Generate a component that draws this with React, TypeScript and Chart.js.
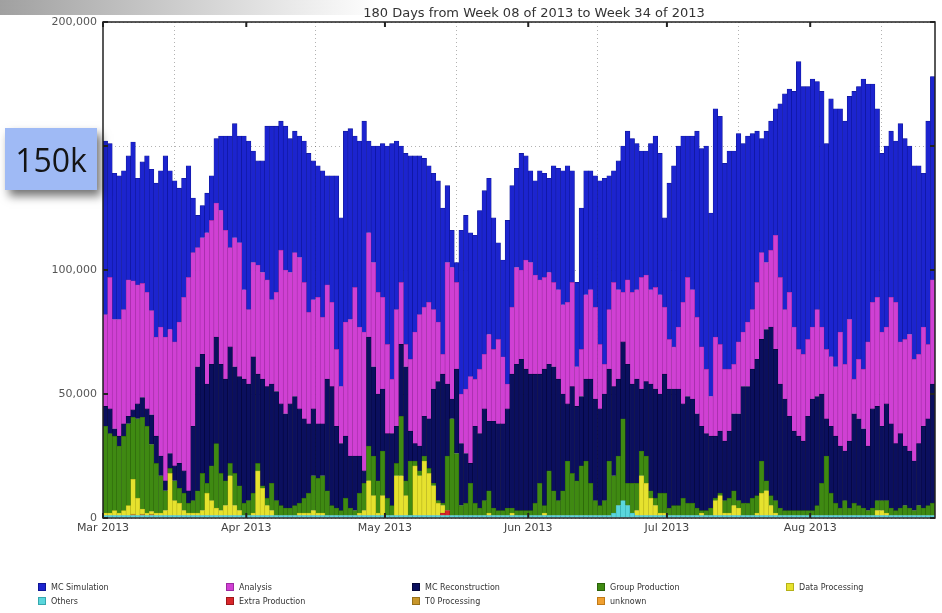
import React, { useEffect, useRef } from "react";
import { Chart, registerables } from "chart.js";

Chart.register(...registerables);

const TITLE = "180 Days from Week 08 of 2013 to Week 34 of 2013";
const MONTH_TICK_POSITIONS = [-0.5, 30.5, 60.5, 91.5, 121.5, 152.5];
const MONTH_TICK_LABELS = ["Mar 2013", "Apr 2013", "May 2013", "Jun 2013", "Jul 2013", "Aug 2013"];
const Y_TICKS = [0, 50000, 100000, 150000, 200000];
const UNIT = 1000; // series values below are in thousands of jobs per day (1 Mar – 27 Aug 2013)

const mcSimulation = [
  70, 54, 59, 58, 56, 50, 56, 43, 49, 55,
  57, 62, 63, 73, 64, 65, 54, 48, 45, 22,
  13, 13, 16, 18, 26, 30, 38, 45, 46, 43,
  62, 68, 45, 42, 45, 62, 70, 67, 52, 58,
  54, 49, 49, 57, 64, 56, 53, 59, 44, 51,
  70, 68, 77, 77, 61, 75, 85, 37, 47, 59,
  62, 80, 95, 68, 55, 77, 82, 71, 64, 60,
  55, 55, 57, 59, 31, 15, 8, 66, 70, 58,
  58, 64, 66, 63, 53, 39, 39, 66, 49, 40,
  47, 42, 37, 38, 44, 42, 38, 47, 49, 54,
  55, 45, 34, 57, 50, 48, 53, 66, 75, 54,
  45, 52, 59, 60, 62, 59, 51, 50, 59, 61,
  57, 36, 63, 73, 73, 67, 57, 62, 75, 80,
  90, 74, 92, 92, 83, 88, 86, 84, 76, 75,
  71, 61, 46, 53, 52, 51, 70, 87, 82, 95,
  116, 108, 102, 100, 92, 95, 83, 104, 104, 90,
  98, 90, 116, 110, 117, 104, 88, 76, 72, 73,
  67, 65, 88, 81, 76, 78, 76, 62, 90, 82,
];

const analysis = [
  37, 53, 44, 47, 46, 55, 52, 48, 46, 47,
  42, 40, 52, 58, 50, 50, 57, 70, 86, 70,
  48, 47, 61, 58, 54, 62, 60, 40, 52, 54,
  36, 30, 38, 44, 43, 43, 34, 40, 62, 58,
  53, 58, 61, 55, 45, 44, 51, 43, 38, 34,
  31, 23, 46, 55, 68, 52, 56, 42, 42, 41,
  37, 36, 22, 47, 25, 9, 29, 45, 53, 44,
  47, 32, 24, 8, 49, 53, 35, 20, 26, 35,
  19, 26, 22, 35, 29, 34, 27, 10, 27, 39,
  36, 44, 45, 40, 38, 37, 37, 34, 36, 36,
  41, 42, 16, 19, 34, 36, 37, 26, 12, 24,
  42, 36, 20, 34, 37, 36, 45, 43, 38, 41,
  40, 27, 20, 17, 25, 41, 48, 44, 39, 32,
  26, 16, 40, 35, 29, 25, 20, 29, 22, 26,
  24, 31, 35, 27, 31, 46, 43, 36, 50, 42,
  35, 35, 31, 29, 35, 27, 28, 28, 28, 46,
  35, 49, 14, 24, 24, 42, 43, 44, 38, 31,
  51, 57, 37, 43, 47, 41, 36, 40, 30, 42,
];

const mcReconstruction = [
  8, 10, 3, 4, 5, 3, 3, 6, 8, 7,
  12, 11, 8, 4, 6, 6, 10, 9, 5, 30,
  50, 48, 40, 41, 43, 44, 41, 47, 43, 44,
  50, 47, 55, 36, 43, 45, 40, 44, 41, 38,
  42, 44, 38, 32, 28, 27, 22, 21, 45, 48,
  33, 27, 25, 21, 22, 15, 5, 44, 36, 35,
  25, 26, 29, 15, 29, 46, 12, 7, 10, 16,
  20, 38, 48, 52, 29, 8, 34, 25, 20, 8,
  31, 30, 37, 28, 35, 35, 35, 40, 54, 59,
  61, 57, 55, 52, 44, 55, 43, 50, 49, 39,
  23, 35, 30, 28, 33, 42, 41, 39, 43, 37,
  36, 31, 31, 48, 40, 42, 25, 30, 43, 44,
  40, 48, 48, 47, 47, 38, 43, 42, 38, 34,
  31, 29, 25, 25, 24, 27, 31, 35, 47, 47,
  52, 55, 49, 61, 68, 61, 50, 45, 38, 32,
  30, 28, 38, 45, 44, 36, 15, 27, 27, 25,
  20, 27, 36, 35, 32, 26, 40, 38, 30, 39,
  34, 27, 30, 24, 23, 20, 25, 33, 35, 48,
];

const groupProduction = [
  35, 32, 30, 27, 30, 33, 25, 32, 37, 35,
  27, 20, 15, 8, 2, 8, 6, 7, 4, 5,
  9, 15, 4, 14, 26, 15, 10, 5, 13, 10,
  5, 6, 8, 3, 1, 3, 11, 6, 4, 3,
  3, 4, 4, 6, 8, 14, 14, 15, 10, 4,
  3, 2, 7, 3, 2, 8, 11, 14, 16, 13,
  18, 7, 4, 5, 24, 6, 22, 2, 2, 2,
  2, 1, 1, 1, 22, 39, 25, 4, 5, 13,
  5, 3, 6, 9, 3, 2, 2, 3, 2, 2,
  2, 2, 2, 5, 13, 3, 18, 10, 6, 10,
  22, 17, 14, 20, 22, 13, 6, 4, 6, 22,
  15, 20, 33, 9, 12, 11, 10, 11, 3, 3,
  8, 8, 3, 4, 4, 7, 5, 5, 3, 1,
  2, 3, 1, 1, 5, 6, 6, 3, 5, 5,
  7, 7, 13, 4, 4, 5, 3, 2, 2, 2,
  2, 2, 2, 2, 4, 13, 24, 9, 5, 3,
  6, 3, 5, 4, 3, 2, 3, 4, 4, 5,
  3, 2, 3, 4, 3, 2, 4, 3, 4, 5,
];

const dataProcessing = [
  1, 1, 2, 1, 2, 4, 14, 7, 2, 1,
  1, 1, 1, 2, 17, 6, 5, 2, 1, 1,
  1, 2, 9, 6, 3, 2, 4, 16, 4, 2,
  0, 0, 1, 18, 11, 4, 2, 0, 0, 0,
  0, 0, 1, 1, 1, 2, 1, 1, 0, 0,
  0, 0, 0, 0, 0, 1, 2, 14, 8, 1,
  8, 0, 0, 16, 16, 8, 0, 20, 16, 22,
  17, 12, 5, 3, 0, 0, 0, 0, 0, 0,
  0, 0, 0, 1, 0, 0, 0, 0, 1, 0,
  0, 0, 0, 0, 0, 1, 0, 0, 0, 0,
  0, 0, 0, 0, 0, 0, 0, 0, 0, 0,
  0, 0, 0, 0, 0, 2, 16, 13, 7, 4,
  1, 1, 0, 0, 0, 0, 0, 0, 0, 1,
  0, 0, 6, 8, 1, 1, 4, 3, 0, 0,
  0, 1, 9, 10, 4, 1, 0, 0, 0, 0,
  0, 0, 0, 0, 0, 0, 0, 0, 0, 0,
  0, 0, 0, 0, 0, 0, 0, 2, 2, 1,
  0, 0, 0, 0, 0, 0, 0, 0, 0, 0,
];

const others = [
  1, 1, 1, 1, 1, 1, 1, 1, 1, 1,
  1, 1, 1, 1, 1, 1, 1, 1, 1, 1,
  1, 1, 1, 1, 1, 1, 1, 1, 1, 1,
  1, 1, 1, 1, 1, 1, 1, 1, 1, 1,
  1, 1, 1, 1, 1, 1, 1, 1, 1, 1,
  1, 1, 1, 1, 1, 1, 1, 1, 1, 1,
  1, 1, 1, 1, 1, 1, 1, 1, 1, 1,
  1, 1, 1, 1, 1, 1, 1, 1, 1, 1,
  1, 1, 1, 1, 1, 1, 1, 1, 1, 1,
  1, 1, 1, 1, 1, 1, 1, 1, 1, 1,
  1, 1, 1, 1, 1, 1, 1, 1, 1, 1,
  2, 5, 7, 5, 2, 1, 1, 1, 1, 1,
  1, 1, 1, 1, 1, 1, 1, 1, 1, 1,
  1, 1, 1, 1, 1, 1, 1, 1, 1, 1,
  1, 1, 1, 1, 1, 1, 1, 1, 1, 1,
  1, 1, 1, 1, 1, 1, 1, 1, 1, 1,
  1, 1, 1, 1, 1, 1, 1, 1, 1, 1,
  1, 1, 1, 1, 1, 1, 1, 1, 1, 1,
];

// sparse series: [day index, thousands]
const extraProduction: [number, number][] = [[73, 1], [74, 2]];
const t0Processing: [number, number][] = [[6, 0.6], [8, 0.6], [10, 0.6]];
const unknown: [number, number][] = [];

type Series = { label: string; values: number[]; color: string; edge: string };

function fromSparse(list: [number, number][], n: number): number[] {
  const out: number[] = new Array(n).fill(0);
  list.forEach(([i, v]) => { out[i] = v; });
  return out;
}

const N = mcSimulation.length;

// legend order (as in the reference)
const LEGEND: Series[] = [
  { label: "MC Simulation", values: mcSimulation, color: "#1c24cf", edge: "#0e1596" },
  { label: "Analysis", values: analysis, color: "#d040d4", edge: "#9c2aa0" },
  { label: "MC Reconstruction", values: mcReconstruction, color: "#0b0f5e", edge: "#05073a" },
  { label: "Group Production", values: groupProduction, color: "#3f8a12", edge: "#2a620a" },
  { label: "Data Processing", values: dataProcessing, color: "#e6e22e", edge: "#b5b118" },
  { label: "Others", values: others, color: "#5ad6dc", edge: "#35a8ae" },
  { label: "Extra Production", values: fromSparse(extraProduction, N), color: "#d8262a", edge: "#a0161a" },
  { label: "T0 Processing", values: fromSparse(t0Processing, N), color: "#c8962a", edge: "#96701a" },
  { label: "unknown", values: fromSparse(unknown, N), color: "#f0a030", edge: "#c07a18" },
];

// stacking order, bottom to top
const STACK_ORDER = [
  "Others", "Extra Production", "T0 Processing", "unknown",
  "Data Processing", "Group Production", "MC Reconstruction", "Analysis", "MC Simulation",
];

const FONT = "'DejaVu Sans', sans-serif";

const framePlugin = {
  id: "frameTicks",
  afterDatasetsDraw(chart: any) {
    const { ctx, chartArea: a, scales } = chart;
    ctx.save();
    ctx.strokeStyle = "#222";
    ctx.lineWidth = 1.5;
    ctx.strokeRect(a.left, a.top, a.right - a.left, a.bottom - a.top);
    ctx.lineWidth = 2;
    ctx.beginPath();
    MONTH_TICK_POSITIONS.forEach((v) => {
      const x = scales.x.getPixelForValue(v);
      ctx.moveTo(x, a.top);
      ctx.lineTo(x, a.top + 5);
      ctx.moveTo(x, a.bottom);
      ctx.lineTo(x, a.bottom - 5);
    });
    Y_TICKS.forEach((v) => {
      const y = scales.y.getPixelForValue(v);
      ctx.moveTo(a.left, y);
      ctx.lineTo(a.left + 5, y);
      ctx.moveTo(a.right, y);
      ctx.lineTo(a.right - 5, y);
    });
    ctx.stroke();
    ctx.restore();
  },
};

const titlePlugin = {
  id: "titleText",
  afterDraw(chart: any) {
    const { ctx, chartArea: a } = chart;
    ctx.save();
    ctx.fillStyle = "#333";
    ctx.font = `13px ${FONT}`;
    ctx.textAlign = "center";
    ctx.textBaseline = "alphabetic";
    ctx.fillText(TITLE, (a.left + a.right) / 2 + 15, a.top - 5);
    ctx.restore();
  },
};

export default function App() {
  const ref = useRef<HTMLCanvasElement>(null);

  useEffect(() => {
    const canvas = ref.current;
    if (!canvas) return;
    const datasets = STACK_ORDER.map((name) => {
      const s = LEGEND.find((l) => l.label === name)!;
      return {
        label: s.label,
        data: s.values.map((v, i) => ({ x: i, y: v * UNIT })),
        backgroundColor: s.color,
        borderColor: s.edge,
        borderWidth: { left: 0.6, right: 0.6, top: 0.6, bottom: 0 },
        borderSkipped: false,
        barPercentage: 1,
        categoryPercentage: 1,
      };
    });

    const chart = new Chart(canvas, {
      type: "bar",
      data: { datasets } as any,
      options: {
        responsive: false,
        animation: false,
        devicePixelRatio: 1,
        layout: { padding: { top: 22, right: 7, left: 0, bottom: 0 } },
        plugins: {
          legend: { display: false },
          title: { display: false },
          tooltip: { enabled: false },
        },
        scales: {
          x: {
            type: "linear",
            stacked: true,
            min: -0.5,
            max: N - 0.5,
            offset: false,
            afterBuildTicks: (s: any) => {
              s.ticks = MONTH_TICK_POSITIONS.map((v) => ({ value: v }));
            },
            afterFit: (s: any) => {
              s.height = 95;
            },
            grid: { color: "rgba(0,0,0,0.3)", drawTicks: false, lineWidth: 1 },
            border: { display: false, dash: [1, 3] },
            ticks: {
              autoSkip: false,
              maxRotation: 0,
              padding: 4,
              color: "#444",
              font: { family: FONT, size: 11 },
              callback: (_v: any, i: number) => MONTH_TICK_LABELS[i],
            },
          },
          y: {
            stacked: true,
            min: 0,
            max: 200000,
            afterBuildTicks: (s: any) => {
              s.ticks = Y_TICKS.map((v) => ({ value: v }));
            },
            afterFit: (s: any) => {
              s.width = 103;
            },
            grid: { color: "rgba(0,0,0,0.3)", drawTicks: false, lineWidth: 1 },
            border: { display: false, dash: [1, 3] },
            ticks: {
              padding: 6,
              color: "#555",
              font: { family: FONT, size: 11 },
              callback: (v: any) => Number(v).toLocaleString("en-US"),
            },
          },
        },
      } as any,
      plugins: [framePlugin, titlePlugin],
    });
    return () => chart.destroy();
  }, []);

  return (
    <div style={{ position: "absolute", left: 0, top: 0, width: 942, height: 613, background: "#fff", overflow: "hidden" }}>
      <div
        style={{
          position: "absolute", left: 0, top: 0, width: 380, height: 15,
          background: "linear-gradient(to right, rgba(150,150,150,0.9), rgba(195,195,195,0.7) 55%, rgba(255,255,255,0))",
        }}
      />
      <canvas ref={ref} width={942} height={613} style={{ position: "absolute", left: 0, top: 0, width: 942, height: 613 }} />
      <div
        style={{
          position: "absolute", left: 5, top: 128, width: 92, height: 62,
          background: "#9fbaf5", boxShadow: "4px 6px 9px rgba(0,0,0,0.55)",
          display: "flex", alignItems: "center", justifyContent: "center",
          fontFamily: "'Open Sans', 'Noto Sans', sans-serif", fontSize: 32, color: "#141414",
        }}
      >
        150k
      </div>
      <div
        style={{
          position: "absolute", left: 38, top: 580,
          display: "grid", gridTemplateColumns: "188px 186px 185px 189px 150px", gridAutoRows: "14px",
          fontFamily: FONT, fontSize: 8, color: "#333",
        }}
      >
        {LEGEND.map((s) => (
          <div key={s.label} style={{ display: "flex", alignItems: "center", whiteSpace: "nowrap" }}>
            <span style={{ display: "inline-block", width: 8, height: 8, background: s.color, border: `1px solid ${s.edge}`, marginRight: 5, boxSizing: "border-box" }} />
            {s.label}
          </div>
        ))}
      </div>
    </div>
  );
}
